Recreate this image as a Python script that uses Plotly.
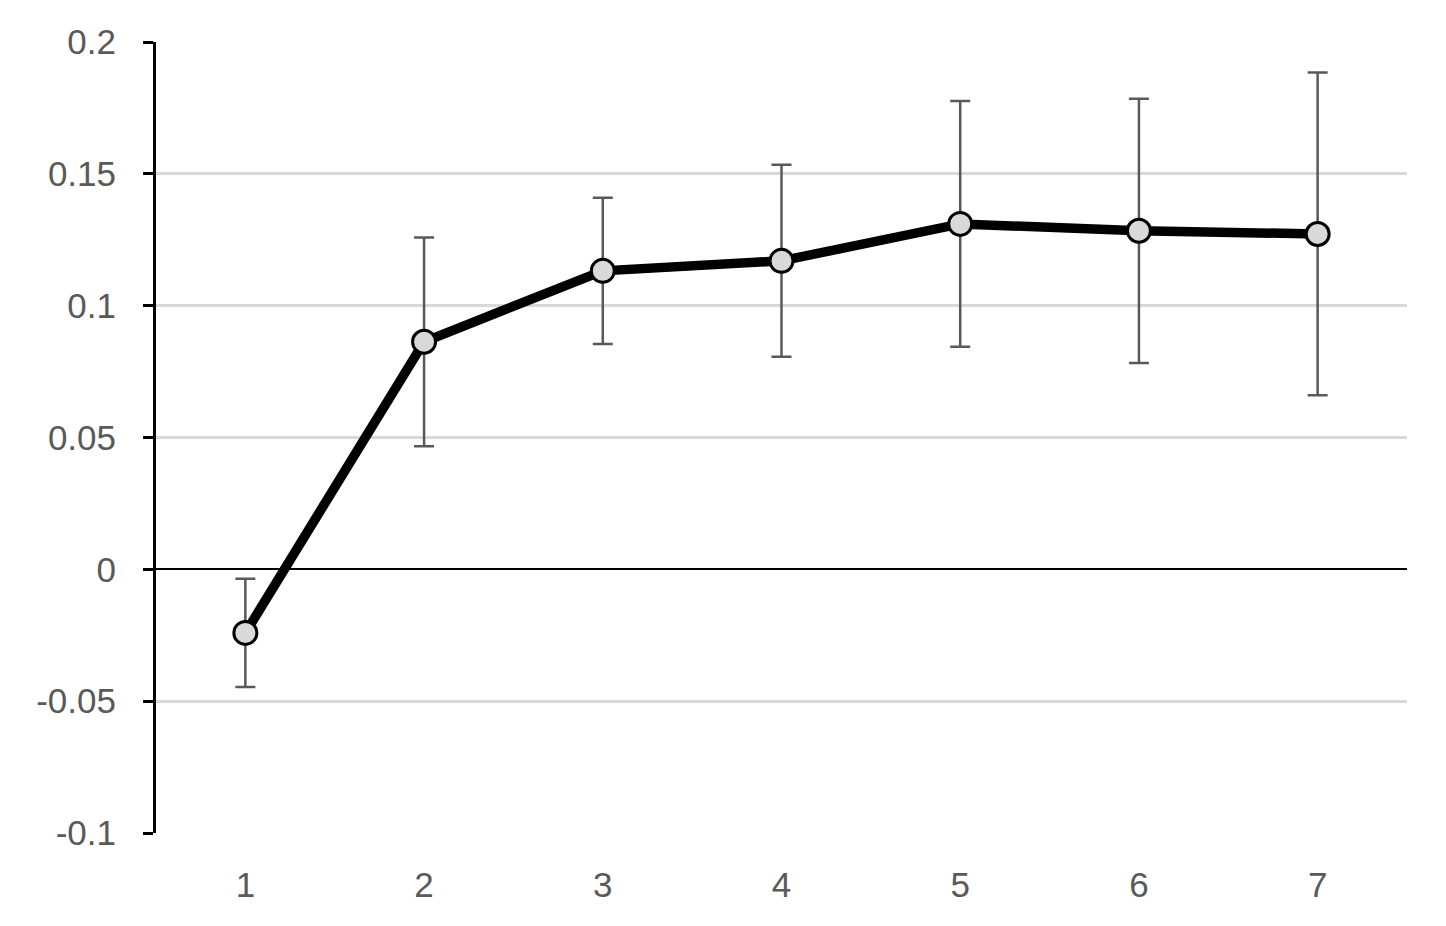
import plotly.graph_objects as go

periods = [1, 2, 3, 4, 5, 6, 7]
estimates = [-0.0241, 0.0863, 0.1132, 0.1170, 0.1310, 0.1284, 0.1272]
errors = [0.0205, 0.0396, 0.0277, 0.0364, 0.0466, 0.0501, 0.0612]
y_ticks = [-0.1, -0.05, 0, 0.05, 0.1, 0.15, 0.2]
y_tick_labels = ["-0.1", "-0.05", "0", "0.05", "0.1", "0.15", "0.2"]

label_font = dict(family="Liberation Sans, Arial, sans-serif", size=35, color="#595959")

fig = go.Figure()
# error bars first so they sit behind the line
fig.add_trace(go.Scatter(
    x=periods, y=estimates, mode="markers",
    marker=dict(size=1, opacity=0),
    error_y=dict(type="data", array=errors, visible=True,
                 color="#595959", thickness=2.5, width=10),
    showlegend=False, hoverinfo="skip"))
fig.add_trace(go.Scatter(
    x=periods, y=estimates, mode="lines+markers",
    line=dict(color="black", width=9.5),
    marker=dict(size=23, color="#d9d9d9", line=dict(color="black", width=3)),
    showlegend=False))

fig.update_layout(
    width=1430, height=910,
    margin=dict(l=148, r=31, t=34, b=85),
    paper_bgcolor="white", plot_bgcolor="white",
    xaxis=dict(range=[0.5, 7.5], tickvals=periods, ticktext=[str(p) for p in periods],
               showgrid=False, zeroline=False, showline=False, ticks="",
               tickfont=label_font, ticklabelstandoff=28),
    yaxis=dict(range=[-0.1, 0.2], tickvals=y_ticks, ticktext=y_tick_labels,
               showgrid=True, gridcolor="#d9d9d9", gridwidth=2.5,
               zeroline=True, zerolinecolor="black", zerolinewidth=2,
               showline=True, linecolor="black", linewidth=3,
               ticks="outside", ticklen=10, tickwidth=3, tickcolor="black",
               tickfont=label_font, ticklabelstandoff=20),
)

fig.write_html("out.html")
